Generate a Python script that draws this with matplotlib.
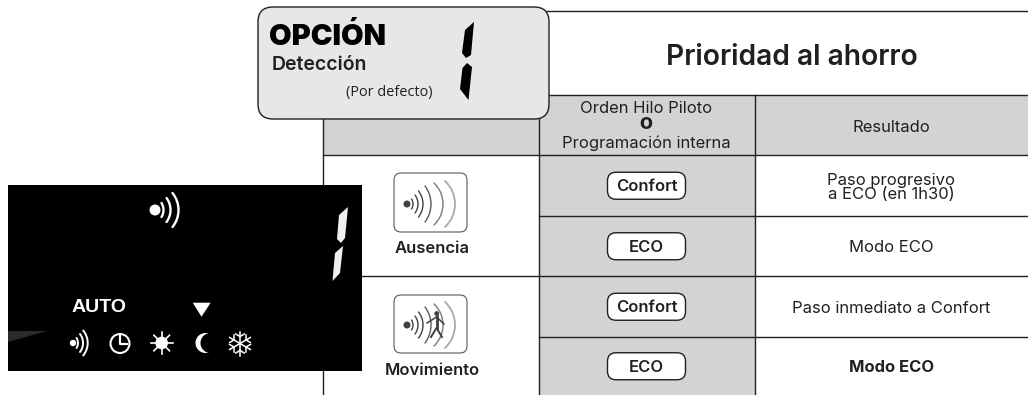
import numpy as np
import matplotlib
matplotlib.use('Agg')
from matplotlib import pyplot as plt
from matplotlib.patches import Arc, Circle, FancyBboxPatch, Polygon, Rectangle

# table layout, pixels
col_x = [323, 539, 754.5, 1028]
row_y = [95, 155, 215.5, 276, 336.5, 395]

# texts
title = 'Prioridad al ahorro'
option_title = 'OPCIÓN'
option_name = 'Detección'
option_note = '(Por defecto)'
header_mid = ['Orden Hilo Piloto', 'O', 'Programación interna']
header_right = 'Resultado'
presence = ['Ausencia', 'Movimiento']
orders = ['Confort', 'ECO', 'Confort', 'ECO']
results = ['Paso progresivo\na ECO (en 1h30)', 'Modo ECO', 'Paso inmediato a Confort', 'Modo ECO']
results_bold = [False, False, False, True]

ink = '#231f20'
grey = '#d1d3d4'
box_grey = '#e6e7e8'
font = ['Inter', 'DejaVu Sans']
px = 0.72  # font px to pt
body = 16.6 * px


def arc(ax, tip_x, y, half, sag, color, lw, z=2):
    # arc through the tip with given half height and depth
    r = (half**2 + sag**2) / (2 * sag)
    a = np.degrees(np.arcsin(min(half / r, 1)))
    ax.add_patch(Arc((tip_x - r, y), 2*r, 2*r, theta1=-a, theta2=a, color=color, lw=lw, capstyle='round', zorder=z))


def icon_box(ax, x0, y0, x1, y1):
    ax.add_patch(FancyBboxPatch((x0+7, y0+7), x1-x0-14, y1-y0-14, boxstyle='round,pad=7,rounding_size=7',
                                fc='white', ec='#58595b', lw=0.8))


def big_arcs(ax, x, y):
    small = [(6, 5, 1.5), (11, 9, 3), (16, 13, 4.5)]
    for dx, half, sag in small:
        arc(ax, x + dx, y, half, sag, '#414042', 1.0)
    arc(ax, x + 24, y, 18, 6, '#58595b', 1.0)
    arc(ax, x + 36, y, 21, 9, '#808285', 1.1)
    arc(ax, x + 48, y, 23, 10, '#a7a9ac', 1.3)
    ax.add_patch(Circle((x, y), 3.5, fc='#414042', ec='none'))


fig = plt.figure(figsize=(10.28, 3.95), dpi=100)
ax = fig.add_axes([0, 0, 1, 1])
ax.set_xlim(0, 1028)
ax.set_ylim(395, 0)
ax.axis('off')

# grey cells
ax.add_patch(Rectangle((col_x[0], row_y[0]), col_x[3]-col_x[0], row_y[1]-row_y[0], fc=grey, ec='none'))
ax.add_patch(Rectangle((col_x[1], row_y[0]), col_x[2]-col_x[1], row_y[-1]-row_y[0], fc=grey, ec='none'))

# table lines
ax.plot([col_x[1], col_x[3]], [10.5, 10.5], color=ink, lw=1.0)
for y in row_y[:-1]:
    x0 = col_x[0] if y in (row_y[0], row_y[1], row_y[3]) else col_x[1]
    ax.plot([x0, col_x[3]], [y, y], color=ink, lw=1.0)
for x in col_x[:-1]:
    ax.plot([x, x], [row_y[0], row_y[-1]], color=ink, lw=1.0)

# option box
ax.add_patch(FancyBboxPatch((273, 22), 261, 82, boxstyle='round,pad=15,rounding_size=15',
                            fc=box_grey, ec=ink, lw=1.0, zorder=3))
ax.text(269.5, 45, option_title, fontsize=21, fontweight='black', family=font, color='black',
        va='baseline', ha='left', zorder=4)
ax.text(272, 69.5, option_name, fontsize=19.5*px, fontweight='semibold', family=font, color=ink,
        va='baseline', ha='left', zorder=4)
ax.text(432, 96, option_note, fontsize=14.5*px, family=['Open Sans', 'DejaVu Sans'], color=ink,
        va='baseline', ha='right', zorder=4)
ax.add_patch(Polygon([(474, 22), (471, 55), (466, 58), (462, 53), (465, 30)], fc='black', ec='none', zorder=4))
ax.add_patch(Polygon([(467, 63), (472, 67), (468.5, 100), (460, 89), (462.5, 68)], fc='black', ec='none', zorder=4))

# title and headers
ax.text(792, 65, title, fontsize=28.2*px, fontweight='semibold', family=font, color=ink, ha='center', va='baseline')
ax.text(646, 113, header_mid[0], fontsize=body, family=font, color=ink, ha='center', va='baseline')
ax.text(646, 129, header_mid[1], fontsize=body, fontweight='black', family=font, color=ink, ha='center', va='baseline')
ax.text(646, 148, header_mid[2], fontsize=body, family=font, color=ink, ha='center', va='baseline')
res_x = (col_x[2] + col_x[3]) / 2
ax.text(res_x, 132.5, header_right, fontsize=body, family=font, color=ink, ha='center', va='baseline')

# order pills and results
for i in range(4):
    yc = (row_y[i+1] + row_y[i+2]) / 2 + 0.5
    ax.add_patch(FancyBboxPatch((616, yc-5), 61, 10, boxstyle='round,pad=8.5,rounding_size=8.5',
                                fc='white', ec=ink, lw=1.0))
    ax.text(646.5, yc + 5.5, orders[i], fontsize=body, fontweight='semibold', family=font, color=ink, ha='center', va='baseline')
    ax.text(res_x, yc + 1.5, results[i], fontsize=body, family=font, color=ink, ha='center', va='center',
            fontweight='bold' if results_bold[i] else 'normal', linespacing=0.95)

# presence icons
icon_box(ax, 394, 173, 467, 232)
big_arcs(ax, 407, 204)
ax.text(432, 253, presence[0], fontsize=body, fontweight='semibold', family=font, color=ink, ha='center', va='baseline')

icon_box(ax, 394, 295, 467, 353)
big_arcs(ax, 407, 325)
ax.add_patch(Rectangle((429, 310), 15, 28, fc='white', ec='none', alpha=0.6))
ax.add_patch(Circle((436.7, 313.5), 2.4, fc='#414042', ec='none'))
ax.plot([436.5, 436.5], [316, 328], color='#414042', lw=2.0)
ax.plot([431, 436.5, 442], [337, 328, 337], color='#414042', lw=1.4)
ax.plot([427, 436.5, 444], [323, 317, 324], color='#414042', lw=1.1)
ax.text(432, 375, presence[1], fontsize=body, fontweight='semibold', family=font, color=ink, ha='center', va='baseline')

# black display panel
ax.add_patch(Rectangle((8, 185), 354, 186, fc='black', ec='none', zorder=5))
ax.add_patch(Polygon([(8, 331), (47, 331), (8, 342)], fc='#2b2b2b', ec='none', zorder=6))
z = 7
ax.add_patch(Polygon([(348, 207), (345, 238), (341, 243), (337, 239), (339, 215)], fc='#f0f0f0', ec='none', zorder=z))
ax.add_patch(Polygon([(343, 246), (340, 273), (332.5, 281), (335, 253)], fc='#f0f0f0', ec='none', zorder=z))

# top waves
ax.add_patch(Circle((155, 210), 5.5, fc='white', ec='none', zorder=z))
for tip, half, sag in [(163.5, 7, 2), (170.5, 12, 4), (178.5, 17, 6)]:
    arc(ax, tip, 210, half, sag, 'white', 1.7, z)

ax.text(99, 312, 'AUTO', fontsize=14, fontweight='bold', family='Liberation Sans', color='white',
        ha='center', va='baseline', zorder=z)
ax.add_patch(Polygon([(192.7, 302.7), (210.7, 302.7), (201.5, 316.7)], fc='white', ec='none', zorder=z))

# small waves
ax.add_patch(Circle((73, 343), 3.2, fc='white', ec='none', zorder=z))
for tip, half, sag in [(78, 5, 1.5), (83, 9, 3), (87.7, 12.5, 4.5)]:
    arc(ax, tip, 343, half, sag, 'white', 1.4, z)

# clock
ax.add_patch(Circle((120, 343.5), 9.5, fc='none', ec='white', lw=1.5, zorder=z))
ax.plot([120, 120, 127], [336, 344, 344], color='white', lw=1.6, zorder=z)

# sun
ax.add_patch(Circle((161.7, 343), 6.3, fc='white', ec='none', zorder=z))
for ang in np.arange(0, 360, 45):
    c, s = np.cos(np.radians(ang)), np.sin(np.radians(ang))
    ax.plot([161.7 + 5*c, 161.7 + 11*c], [343 + 5*s, 343 + 11*s], color='white', lw=1.2, zorder=z)

# moon
ax.add_patch(Circle((205.5, 343), 10, fc='white', ec='none', zorder=z))
ax.add_patch(Circle((210.5, 343), 10, fc='black', ec='none', zorder=z))

# snowflake
for ang in np.arange(30, 360, 60):
    c, s = np.cos(np.radians(ang)), np.sin(np.radians(ang))
    ax.plot([240, 240 + 12*c], [343.5, 343.5 + 12*s], color='white', lw=1.1, zorder=z)
    mx, my = 240 + 7*c, 343.5 + 7*s
    for off in (60, -60):
        c2, s2 = np.cos(np.radians(ang + off)), np.sin(np.radians(ang + off))
        ax.plot([mx, mx + 5*c2], [my, my + 5*s2], color='white', lw=1.1, zorder=z)

fig.savefig('out.png', dpi=100)
